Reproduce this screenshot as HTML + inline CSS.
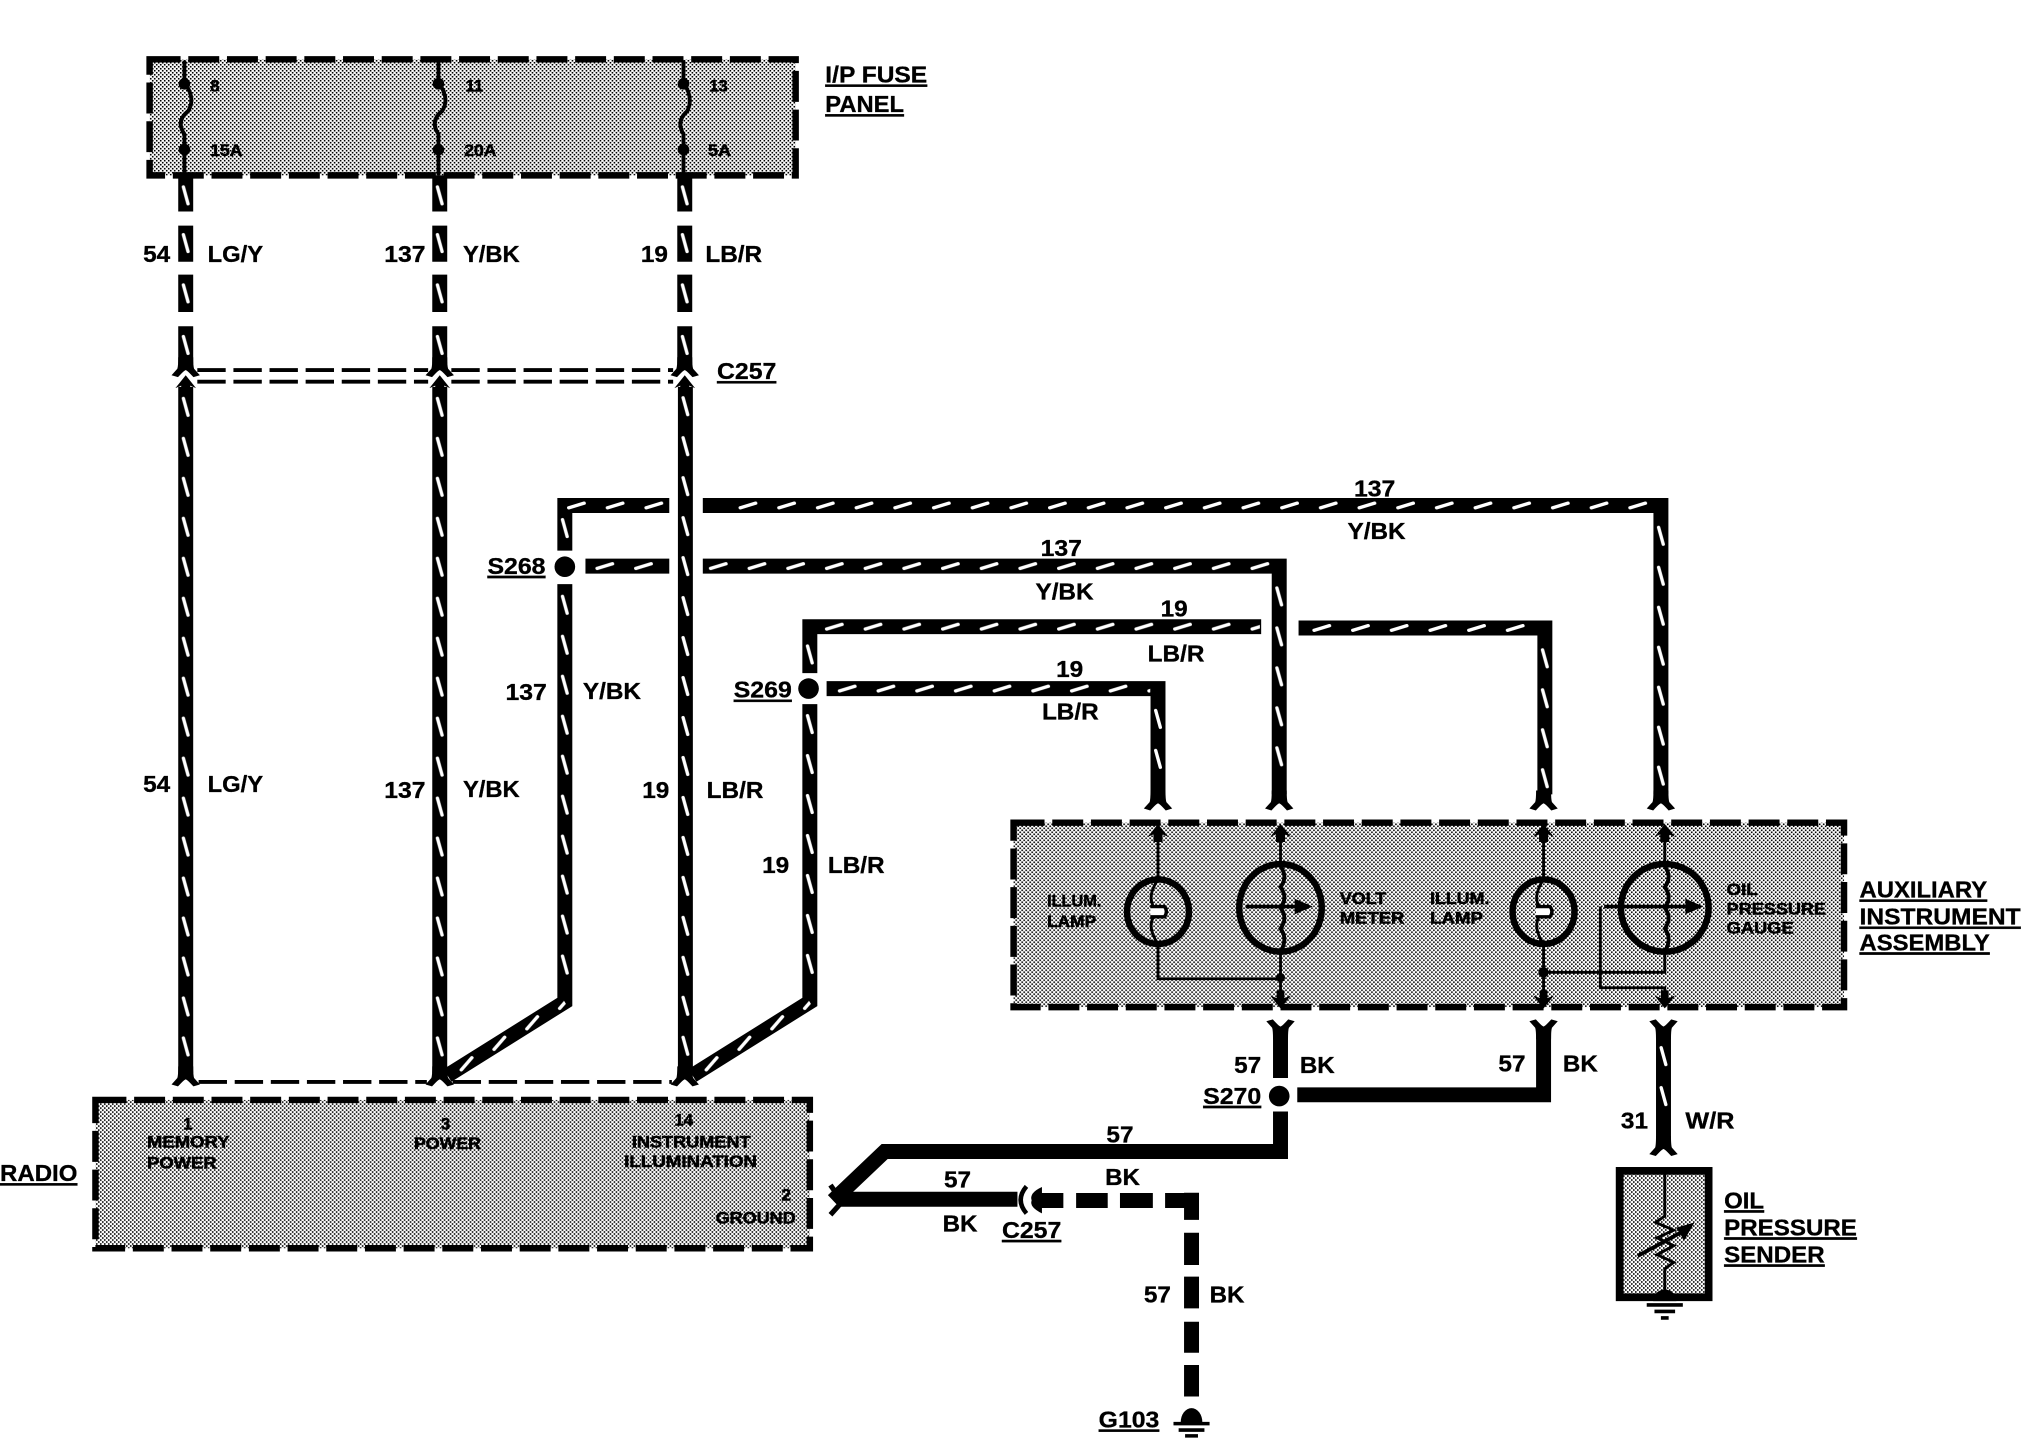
<!DOCTYPE html>
<html>
<head>
<meta charset="utf-8">
<title>Wiring diagram</title>
<style>
html,body{margin:0;padding:0;background:#fff;width:2022px;height:1440px;overflow:hidden}
svg{display:block}
text{font-family:"Liberation Sans",sans-serif;font-weight:700;fill:#000;font-size:18px;stroke:#000;stroke-width:.25}
.u{text-decoration:underline}
.s{font-size:13px;stroke-width:.4}
.w{fill:none;stroke:#000;stroke-width:11.6}
.n{fill:none;stroke:#000;stroke-width:2.2}
.f{fill:none;stroke:#000;stroke-width:3}
.d{fill:none;stroke:#000;stroke-width:5;stroke-dasharray:24 6}
.c{fill:none;stroke:#000;stroke-width:3;stroke-dasharray:22 6}
.tv{fill:url(#tv);width:11.6px}
.th{fill:url(#th);height:11.6px}
</style>
</head>
<body>
<svg width="2022" height="1440" viewBox="0 0 1568 1116.7" xmlns="http://www.w3.org/2000/svg">
<defs>
<pattern id="p" width="3.1" height="3.1" patternUnits="userSpaceOnUse">
<rect width="3.1" height="3.1" fill="#fff"/>
<rect x="0" y="0" width="1.25" height="1.25" fill="#000"/>
<rect x="1.55" y="1.55" width="1.25" height="1.25" fill="#000"/>
</pattern>
<pattern id="tv" width="11.6" height="31" patternUnits="userSpaceOnUse">
<path d="M4,9L7.6,22" stroke="#fff" stroke-width="2.6" stroke-linecap="round"/>
</pattern>
<pattern id="th" width="30" height="11.6" patternUnits="userSpaceOnUse">
<path d="M9,7.6L21,4" stroke="#fff" stroke-width="2.6" stroke-linecap="round"/>
</pattern>
<path id="fu" d="M-11,7 L-6.5,2 Q-5.8,0 -5.8,-7 L5.8,-7 Q5.8,0 6.5,2 L11,7 L6,8.5 Q1,3 0,3 Q-1,3 -6,8.5 Z"/>
<path id="fd" d="M-11,-7 L-6.5,-2 Q-5.8,0 -5.8,7 L5.8,7 Q5.8,0 6.5,-2 L11,-7 L6,-8.5 Q1,-3 0,-3 Q-1,-3 -6,-8.5 Z"/>
<path id="au" d="M0,-4 L8,6 L3.5,4 L3.5,10 L-3.5,10 L-3.5,4 L-8,6 Z"/>
<path id="ad" d="M0,4 L8,-6 L3,-4 L3,-10 L-3,-10 L-3,-4 L-8,-6 Z"/>
</defs>

<!-- Fuse panel -->
<rect x="116" y="46" width="501" height="90" fill="url(#p)"/>
<rect x="116" y="46" width="501" height="90" class="d"/>
<path class="f" d="M143,47V64M143,118V136M340,47V64M340,118V136M530,47V64M530,118V136"/>
<path class="f" d="M143,64Q152,76 146,86Q136,94 143,104V118M340,64Q349,76 343,86Q333,94 340,104V118M530,64Q538,76 533,86Q524,94 530,104V118"/>
<circle cx="143" cy="65" r="4.5"/><circle cx="143" cy="116" r="4.5"/>
<circle cx="340" cy="65" r="4.5"/><circle cx="340" cy="116" r="4.5"/>
<circle cx="530" cy="65" r="4.5"/><circle cx="530" cy="116" r="4.5"/>

<!-- Top broken wires -->
<path class="w" d="M144,136V164M144,175V203M144,213V242M144,253V282"/>
<path class="w" d="M341,136V164M341,175V203M341,213V242M341,253V282"/>
<path class="w" d="M531,136V164M531,175V203M531,213V242M531,253V282"/>
<use href="#fu" x="144" y="284"/><use href="#fu" x="341" y="284"/><use href="#fu" x="531" y="284"/>
<path class="c" d="M153,287H332M350,287H522"/>
<path class="c" d="M153,296H332M350,296H522"/>

<!-- Main vertical wires -->
<use href="#au" x="144" y="295"/><use href="#au" x="341" y="295"/><use href="#au" x="531" y="295"/>
<path class="w" d="M144,300V832"/>
<path class="w" d="M341,300V832"/>
<path class="w" d="M531.5,300V832"/>
<use href="#fu" x="144" y="834"/><use href="#fu" x="341" y="834"/><use href="#fu" x="531" y="834"/>
<path class="c" d="M154,839H331M351,839H521"/>

<!-- 137 branches -->
<path class="w" d="M347,834L438,777V453M438,427V392H519"/>
<path class="w" d="M545,392H1288V616"/>
<circle cx="438" cy="439.5" r="8"/>
<path class="w" d="M454,439H519M545,439H992V616"/>

<!-- 19 branches -->
<path class="w" d="M537,834L628,777V546M628,522V486H978"/>
<path class="w" d="M1007,487H1198V616"/>
<circle cx="627" cy="534" r="8"/>
<path class="w" d="M641,534H898V616"/>

<!-- Wire slashes -->
<g>
<rect class="tv" transform="translate(138.2,136)" height="31"/>
<rect class="tv" transform="translate(138.2,173)" height="31"/>
<rect class="tv" transform="translate(138.2,212)" height="31"/>
<rect class="tv" transform="translate(138.2,252)" height="31"/>
<rect class="tv" transform="translate(335.2,136)" height="31"/>
<rect class="tv" transform="translate(335.2,173)" height="31"/>
<rect class="tv" transform="translate(335.2,212)" height="31"/>
<rect class="tv" transform="translate(335.2,252)" height="31"/>
<rect class="tv" transform="translate(525.2,136)" height="31"/>
<rect class="tv" transform="translate(525.2,173)" height="31"/>
<rect class="tv" transform="translate(525.2,212)" height="31"/>
<rect class="tv" transform="translate(525.2,252)" height="31"/>
<rect class="tv" transform="translate(138.2,300)" height="527"/>
<rect class="tv" transform="translate(335.2,300)" height="527"/>
<rect class="tv" transform="translate(525.7,299.5)" height="527"/>
<rect class="tv" transform="translate(432.2,394)" height="31"/>
<rect class="tv" transform="translate(432.2,453.5)" height="310"/>
<rect class="tv" transform="translate(622.2,492)" height="31"/>
<rect class="tv" transform="translate(622.2,546)" height="217"/>
<rect class="tv" transform="translate(1282.2,400)" height="217"/>
<rect class="tv" transform="translate(986.2,447)" height="155"/>
<rect class="tv" transform="translate(1192.2,495)" height="124"/>
<rect class="tv" transform="translate(892.2,542)" height="62"/>
<rect class="tv" transform="translate(1284.2,803.5)" height="62"/>
<rect class="th" transform="translate(432,386.2)" width="87"/>
<rect class="th" transform="translate(565,386.2)" width="720"/>
<rect class="th" transform="translate(454,433.2)" width="65"/>
<rect class="th" transform="translate(542,433.2)" width="448"/>
<rect class="th" transform="translate(632,480.2)" width="345"/>
<rect class="th" transform="translate(1010,481.2)" width="180"/>
<rect class="th" transform="translate(642,528.2)" width="250"/>
<rect class="th" transform="translate(346,828) rotate(-32)" width="105"/>
<rect class="th" transform="translate(536,828) rotate(-32)" width="105"/>
</g>
<use href="#fu" x="898" y="620"/><use href="#fu" x="992" y="620"/><use href="#fu" x="1197" y="620"/><use href="#fu" x="1288" y="620"/>

<!-- Aux instrument assembly -->
<rect x="786" y="638" width="644" height="143" fill="url(#p)"/>
<rect x="786" y="638" width="644" height="143" class="d"/>
<use href="#au" x="898" y="643"/><use href="#au" x="993" y="643"/><use href="#au" x="1197" y="643"/><use href="#au" x="1291" y="643"/>
<path class="n" d="M898,643V681M898,733V759H993M993,643V776"/>
<path class="n" d="M1197,643V776M1291,643V670M1291,740V754H1197M1241,703V766H1291V776"/>
<use href="#ad" x="993" y="778"/><use href="#ad" x="1197" y="778"/><use href="#ad" x="1291" y="778"/>
<circle cx="993" cy="758" r="3.5"/><circle cx="1197" cy="754" r="4"/>
<ellipse cx="898" cy="707" rx="24" ry="25" fill="url(#p)" stroke="#000" stroke-width="5"/>
<ellipse cx="993" cy="704" rx="32" ry="34" fill="url(#p)" stroke="#000" stroke-width="5"/>
<ellipse cx="1197" cy="707" rx="24" ry="25" fill="url(#p)" stroke="#000" stroke-width="5"/>
<ellipse cx="1291" cy="704" rx="34" ry="34" fill="url(#p)" stroke="#000" stroke-width="5"/>
<path class="n" d="M898,682Q890,694 894,702M898,732Q890,720 894,712M1197,682Q1189,694 1193,702M1197,732Q1189,720 1193,712"/>
<path d="M892,703H903Q906,707 903,711H892" fill="#fff" stroke="#000" stroke-width="2.6"/>
<path d="M1191,703H1202Q1205,707 1202,711H1191" fill="#fff" stroke="#000" stroke-width="2.6"/>
<path class="f" d="M993,672Q999,680 993,688Q999,696 993,704Q999,712 993,720Q999,728 993,738M1291,672Q1297,680 1291,688Q1297,696 1291,704Q1297,712 1291,720Q1297,728 1291,738"/>
<path class="n" stroke-width="2.5" style="stroke-width:2.8" d="M966,703H1006M1244,703H1308"/>
<path d="M1004,697L1018,703L1004,709Z M1307,697L1321,703L1307,709Z"/>

<!-- Lower right wires -->
<use href="#fd" x="993" y="799"/><use href="#fd" x="1197" y="799"/><use href="#fd" x="1290" y="799"/>
<path class="w" d="M993,802V836M1197,802V849H1006"/>
<circle cx="992" cy="850" r="8"/>
<path class="w" d="M993,862V893H686L646,931"/>
<path class="w" d="M1290,802V886"/>
<rect class="tv" transform="translate(1284.2,803.5)" height="62"/>
<use href="#fu" x="1290" y="888"/>

<!-- Radio -->
<rect x="74" y="853" width="554" height="115" fill="url(#p)"/>
<rect x="74" y="853" width="554" height="115" class="d"/>

<!-- Ground wire / C257 -->
<path d="M644,919L653,932L644,942" fill="none" stroke="#000" stroke-width="4"/>
<path class="w" d="M650,930H789"/>
<path d="M796,920Q787,930.5 796,941" fill="none" stroke="#000" stroke-width="3.5"/>
<path d="M808,920.5Q798,925 800,931Q798,936 808,941Z"/>
<path class="w" d="M806,931H824.6M834.5,931H859M868.5,931H894M903.5,931H929.8M924,925V946M924,956V981M924,990V1014.6M924,1025V1049M924,1058.5V1083"/>

<!-- G103 ground -->
<path d="M915.6,1103 A8.4,11 0 0 1 932.4,1103 Z"/>
<path stroke="#000" stroke-width="2.8" d="M910,1104H938M914,1109H934M919,1113.5H929"/>

<!-- Oil pressure sender -->
<rect x="1256" y="908" width="69" height="98" fill="url(#p)" stroke="#000" stroke-width="6"/>
<path class="n" d="M1291,908V943L1284,948L1298,954L1285,960L1298,966L1285,973L1298,979L1291,984V1004"/>
<path d="M1270,974L1305,955" stroke="#000" stroke-width="3"/>
<path d="M1300,952L1314,948L1306,962Z"/>
<path d="M1282,1009 A9,9 0 0 1 1300,1009 Z"/>
<path stroke="#000" stroke-width="2.8" d="M1277,1012H1305M1283,1017H1299M1288,1022H1294"/>

<!-- Labels -->
<g>
<text x="640" y="64" textLength="79" lengthAdjust="spacingAndGlyphs" class="u">I/P FUSE</text>
<text x="640" y="87" textLength="61" lengthAdjust="spacingAndGlyphs" class="u">PANEL</text>
<text x="111" y="203" textLength="21" lengthAdjust="spacingAndGlyphs">54</text>
<text x="161" y="203" textLength="43" lengthAdjust="spacingAndGlyphs">LG/Y</text>
<text x="298" y="203" textLength="32" lengthAdjust="spacingAndGlyphs">137</text>
<text x="359" y="203" textLength="44" lengthAdjust="spacingAndGlyphs">Y/BK</text>
<text x="497" y="203" textLength="21" lengthAdjust="spacingAndGlyphs">19</text>
<text x="547" y="203" textLength="44" lengthAdjust="spacingAndGlyphs">LB/R</text>
<text x="556" y="294" textLength="46" lengthAdjust="spacingAndGlyphs" class="u">C257</text>
<text x="1050" y="385" textLength="32" lengthAdjust="spacingAndGlyphs">137</text>
<text x="1045" y="418" textLength="45" lengthAdjust="spacingAndGlyphs">Y/BK</text>
<text x="807" y="431" textLength="32" lengthAdjust="spacingAndGlyphs">137</text>
<text x="803" y="465" textLength="45" lengthAdjust="spacingAndGlyphs">Y/BK</text>
<text x="900" y="478" textLength="21" lengthAdjust="spacingAndGlyphs">19</text>
<text x="890" y="513" textLength="44" lengthAdjust="spacingAndGlyphs">LB/R</text>
<text x="819" y="525" textLength="21" lengthAdjust="spacingAndGlyphs">19</text>
<text x="808" y="558" textLength="44" lengthAdjust="spacingAndGlyphs">LB/R</text>
<text x="378" y="445" textLength="45" lengthAdjust="spacingAndGlyphs" class="u">S268</text>
<text x="569" y="541" textLength="45" lengthAdjust="spacingAndGlyphs" class="u">S269</text>
<text x="392" y="543" textLength="32" lengthAdjust="spacingAndGlyphs">137</text>
<text x="452" y="542" textLength="45" lengthAdjust="spacingAndGlyphs">Y/BK</text>
<text x="111" y="614" textLength="21" lengthAdjust="spacingAndGlyphs">54</text>
<text x="161" y="614" textLength="43" lengthAdjust="spacingAndGlyphs">LG/Y</text>
<text x="298" y="619" textLength="32" lengthAdjust="spacingAndGlyphs">137</text>
<text x="359" y="618" textLength="44" lengthAdjust="spacingAndGlyphs">Y/BK</text>
<text x="498" y="619" textLength="21" lengthAdjust="spacingAndGlyphs">19</text>
<text x="548" y="619" textLength="44" lengthAdjust="spacingAndGlyphs">LB/R</text>
<text x="591" y="677" textLength="21" lengthAdjust="spacingAndGlyphs">19</text>
<text x="642" y="677" textLength="44" lengthAdjust="spacingAndGlyphs">LB/R</text>
<text x="957" y="832" textLength="21" lengthAdjust="spacingAndGlyphs">57</text>
<text x="1008" y="832" textLength="27" lengthAdjust="spacingAndGlyphs">BK</text>
<text x="933" y="856" textLength="45" lengthAdjust="spacingAndGlyphs" class="u">S270</text>
<text x="1162" y="831" textLength="21" lengthAdjust="spacingAndGlyphs">57</text>
<text x="1212" y="831" textLength="27" lengthAdjust="spacingAndGlyphs">BK</text>
<text x="1257" y="875" textLength="21" lengthAdjust="spacingAndGlyphs">31</text>
<text x="1307" y="875" textLength="38" lengthAdjust="spacingAndGlyphs">W/R</text>
<text x="858" y="886" textLength="21" lengthAdjust="spacingAndGlyphs">57</text>
<text x="857" y="919" textLength="27" lengthAdjust="spacingAndGlyphs">BK</text>
<text x="732" y="921" textLength="21" lengthAdjust="spacingAndGlyphs">57</text>
<text x="731" y="955" textLength="27" lengthAdjust="spacingAndGlyphs">BK</text>
<text x="777" y="960" textLength="46" lengthAdjust="spacingAndGlyphs" class="u">C257</text>
<text x="887" y="1010" textLength="21" lengthAdjust="spacingAndGlyphs">57</text>
<text x="938" y="1010" textLength="27" lengthAdjust="spacingAndGlyphs">BK</text>
<text x="852" y="1107" textLength="47" lengthAdjust="spacingAndGlyphs" class="u">G103</text>
<text x="1337" y="937" textLength="31" lengthAdjust="spacingAndGlyphs" class="u">OIL</text>
<text x="1337" y="958" textLength="103" lengthAdjust="spacingAndGlyphs" class="u">PRESSURE</text>
<text x="1337" y="979" textLength="78" lengthAdjust="spacingAndGlyphs" class="u">SENDER</text>
<text x="1442" y="696" textLength="99" lengthAdjust="spacingAndGlyphs" class="u">AUXILIARY</text>
<text x="1442" y="717" textLength="125" lengthAdjust="spacingAndGlyphs" class="u">INSTRUMENT</text>
<text x="1442" y="737" textLength="101" lengthAdjust="spacingAndGlyphs" class="u">ASSEMBLY</text>
<text x="0" y="916" textLength="60" lengthAdjust="spacingAndGlyphs" class="u">RADIO</text>

<text class="s" x="163" y="71">8</text>
<text class="s" x="361" y="71">11</text>
<text class="s" x="550" y="71">13</text>
<text class="s" x="163" y="121" textLength="25" lengthAdjust="spacingAndGlyphs">15A</text>
<text class="s" x="360" y="121" textLength="25" lengthAdjust="spacingAndGlyphs">20A</text>
<text class="s" x="549" y="121" textLength="18" lengthAdjust="spacingAndGlyphs">5A</text>
<text class="s" x="812" y="703" textLength="42" lengthAdjust="spacingAndGlyphs">ILLUM.</text>
<text class="s" x="812" y="719" textLength="38" lengthAdjust="spacingAndGlyphs">LAMP</text>
<text class="s" x="1039" y="701" textLength="36" lengthAdjust="spacingAndGlyphs">VOLT</text>
<text class="s" x="1039" y="716" textLength="50" lengthAdjust="spacingAndGlyphs">METER</text>
<text class="s" x="1109" y="701" textLength="46" lengthAdjust="spacingAndGlyphs">ILLUM.</text>
<text class="s" x="1109" y="716" textLength="41" lengthAdjust="spacingAndGlyphs">LAMP</text>
<text class="s" x="1339" y="694" textLength="24" lengthAdjust="spacingAndGlyphs">OIL</text>
<text class="s" x="1339" y="709" textLength="77" lengthAdjust="spacingAndGlyphs">PRESSURE</text>
<text class="s" x="1339" y="724" textLength="52" lengthAdjust="spacingAndGlyphs">GAUGE</text>
<text class="s" x="142" y="876">1</text>
<text class="s" x="114" y="890" textLength="64" lengthAdjust="spacingAndGlyphs">MEMORY</text>
<text class="s" x="114" y="906" textLength="54" lengthAdjust="spacingAndGlyphs">POWER</text>
<text class="s" x="342" y="876">3</text>
<text class="s" x="321" y="891" textLength="52" lengthAdjust="spacingAndGlyphs">POWER</text>
<text class="s" x="523" y="873">14</text>
<text class="s" x="490" y="890" textLength="92" lengthAdjust="spacingAndGlyphs">INSTRUMENT</text>
<text class="s" x="484" y="905" textLength="103" lengthAdjust="spacingAndGlyphs">ILLUMINATION</text>
<text class="s" x="606" y="931">2</text>
<text class="s" x="555" y="949" textLength="62" lengthAdjust="spacingAndGlyphs">GROUND</text>
</g>
</svg>
</body>
</html>
